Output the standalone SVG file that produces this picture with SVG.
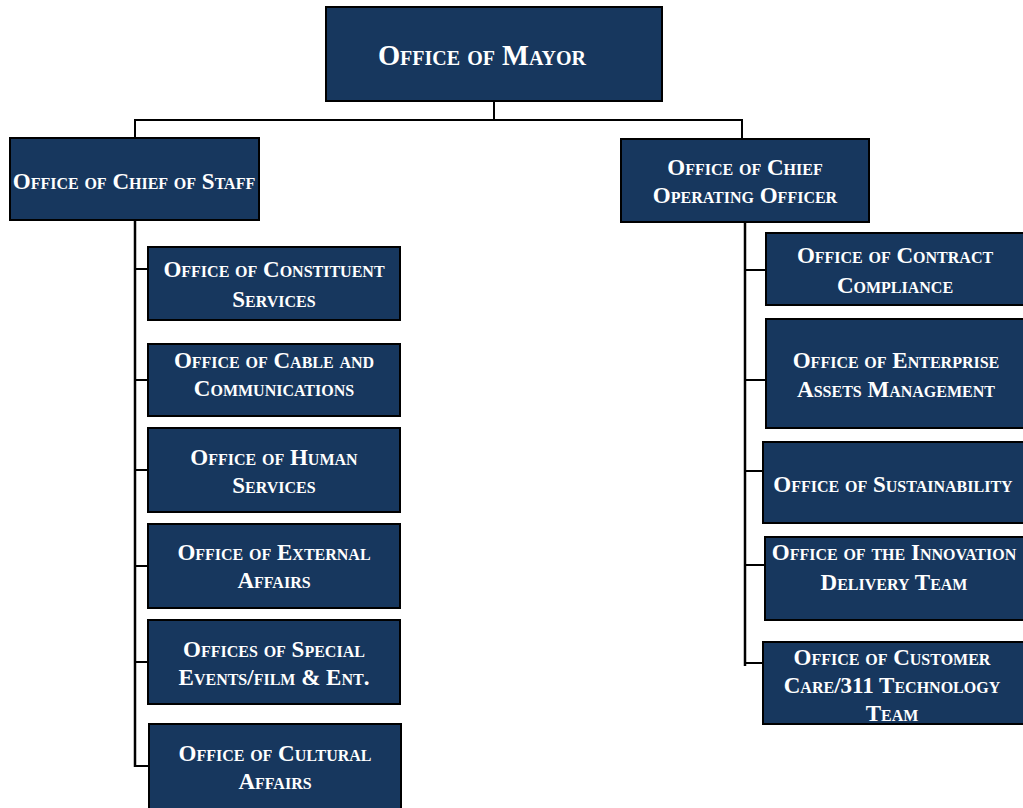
<svg xmlns="http://www.w3.org/2000/svg" width="1023" height="808" viewBox="0 0 1023 808">
<style>
.box{fill:#17375e;stroke:#000;stroke-width:2}
.t{fill:#fff;font-family:"Liberation Serif","DejaVu Serif",serif;font-weight:bold;font-variant:small-caps;font-size:23px;text-anchor:middle}
.big{font-size:28.5px}
.c{stroke:#000;stroke-width:2;fill:none}
.s{stroke-width:2.5}
</style>
<rect width="1023" height="808" fill="#fff"/>
<g id="connectors">
<path class="c" d="M494 101V120M134 120H743M135 119V138M742 119V139"/>
<path class="c" d="M134 269H148M134 380H148M134 470H148M134 566H148M134 662H148M134 766H148"/>
<path class="c" d="M744 270H765M744 380H765M744 471H763M744 565H765M744 663H763"/>
<path class="c s" d="M135 220V767M745 222V666"/>
</g>
<g id="mayor"><rect class="box" x="326" y="7" width="336" height="94"/><text class="t big" x="482" y="65">Office of Mayor</text></g>
<g id="chief-of-staff"><rect class="box" x="10" y="138" width="249" height="82"/><text class="t" x="134" y="189">Office of Chief of Staff</text></g>
<g id="coo"><rect class="box" x="621" y="139" width="248" height="83"/><text class="t" x="745" y="175">Office of Chief</text><text class="t" x="745" y="203">Operating Officer</text></g>
<g id="constituent"><rect class="box" x="148" y="247" width="252" height="73"/><text class="t" x="274" y="277">Office of Constituent</text><text class="t" x="274" y="307">Services</text></g>
<g id="cable"><rect class="box" x="148" y="344" width="252" height="72"/><text class="t" x="274" y="368">Office of Cable and</text><text class="t" x="274" y="396">Communications</text></g>
<g id="human"><rect class="box" x="148" y="428" width="252" height="84"/><text class="t" x="274" y="465">Office of Human</text><text class="t" x="274" y="493">Services</text></g>
<g id="external"><rect class="box" x="148" y="524" width="252" height="84"/><text class="t" x="274" y="560">Office of External</text><text class="t" x="274" y="588">Affairs</text></g>
<g id="special"><rect class="box" x="148" y="620" width="252" height="84"/><text class="t" x="274" y="657">Offices of Special</text><text class="t" x="274" y="685">Events/film &amp; Ent.</text></g>
<g id="cultural"><rect class="box" x="149" y="724" width="252" height="86"/><text class="t" x="275" y="761">Office of Cultural</text><text class="t" x="275" y="789">Affairs</text></g>
<g id="contract"><rect class="box" x="766" y="233" width="258" height="72"/><text class="t" x="895" y="263">Office of Contract</text><text class="t" x="895" y="293">Compliance</text></g>
<g id="enterprise"><rect class="box" x="766" y="319" width="258" height="109"/><text class="t" x="896" y="368">Office of Enterprise</text><text class="t" x="896" y="397">Assets Management</text></g>
<g id="sustainability"><rect class="box" x="763" y="442" width="261" height="81"/><text class="t" x="893" y="492">Office of Sustainability</text></g>
<g id="innovation"><rect class="box" x="765" y="537" width="259" height="83"/><text class="t" x="894" y="560">Office of the Innovation</text><text class="t" x="894" y="590">Delivery Team</text></g>
<g id="customer"><rect class="box" x="763" y="642" width="261" height="82"/><text class="t" x="892" y="665">Office of Customer</text><text class="t" x="892" y="693">Care/311 Technology</text><text class="t" x="892" y="721">Team</text></g>
</svg>
